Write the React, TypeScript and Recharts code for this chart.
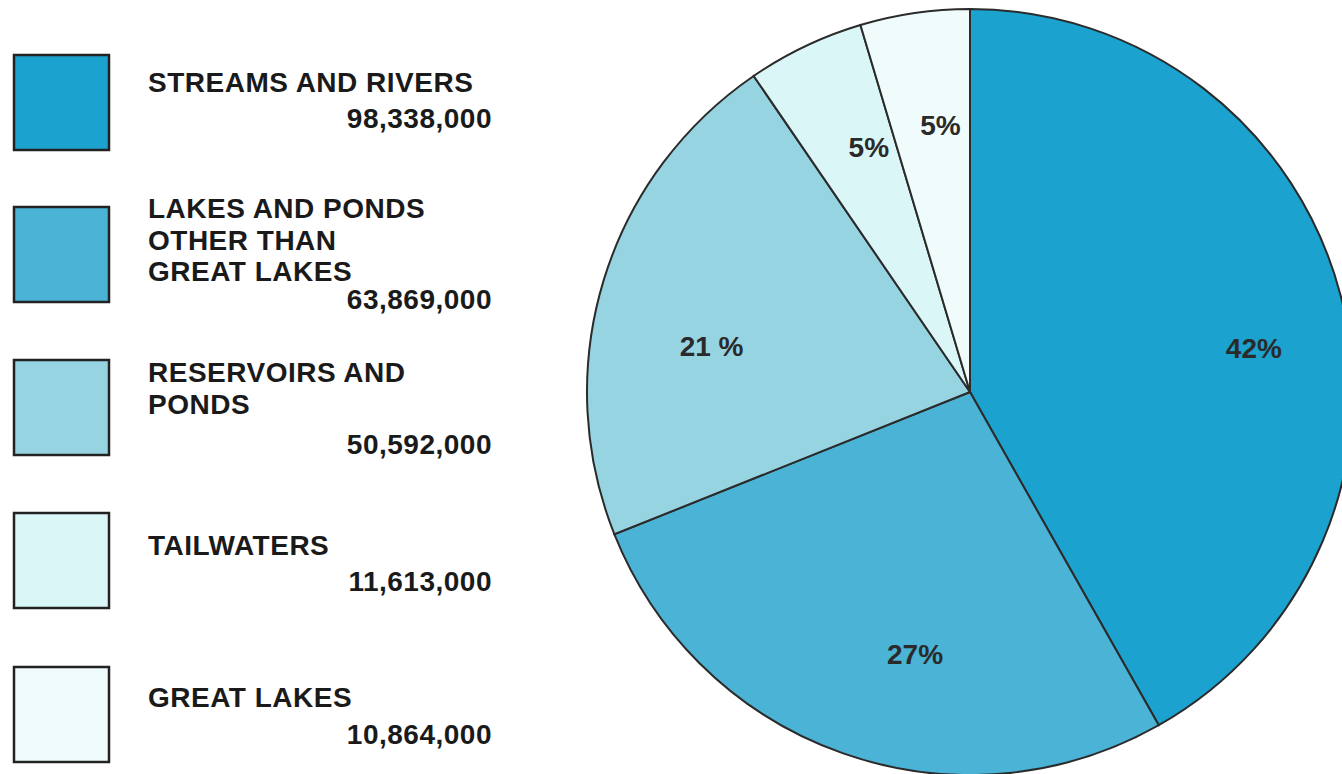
import { PieChart, Pie, Cell } from 'recharts';

const categories = ['STREAMS AND RIVERS', 'LAKES AND PONDS OTHER THAN GREAT LAKES', 'RESERVOIRS AND PONDS', 'TAILWATERS', 'GREAT LAKES'];
const legendLines = [
  ['STREAMS AND RIVERS'],
  ['LAKES AND PONDS', 'OTHER THAN', 'GREAT LAKES'],
  ['RESERVOIRS AND', 'PONDS'],
  ['TAILWATERS'],
  ['GREAT LAKES'],
];
const acres = [98338000, 63869000, 50592000, 11613000, 10864000];
const percentLabels = ['42%', '27%', '21 %', '5%', '5%'];
const colors = ['#1ca2cf', '#4bb3d6', '#97d4e2', '#daf6f6', '#f0fcfc'];

const data = categories.map((name, i) => ({ name, value: acres[i] }));

const FONT = '"Liberation Sans", Arial, Helvetica, sans-serif';
const RAD = Math.PI / 180;

// small nudges so the labels sit where the printed ones do
const labelShift = [-6, 7.5, 7, -3, -2];
const labelRadius = [0.75, 0.7, 0.685, 0.69, 0.7];

const renderLabel = (props: any) => {
  const { cx, cy, midAngle, outerRadius, index } = props;
  const r = outerRadius * labelRadius[index];
  const a = midAngle + labelShift[index];
  const x = cx + r * Math.cos(-a * RAD);
  const y = cy + r * Math.sin(-a * RAD);
  return (
    <text x={x} y={y} fill="#2a2a2a" fontFamily={FONT} fontWeight="bold" fontSize={28}
      textAnchor="middle" dominantBaseline="central">
      {percentLabels[index]}
    </text>
  );
};

// legend rows: box top y, text baselines, number baseline
const rowTops = [55, 207, 360, 513, 667];
const titleBaselines = [[92], [218, 250, 281], [382, 414], [555], [707]];
const numberBaselines = [128, 309, 454, 591, 744];

function LegendBlock() {
  return (
    <svg width={520} height={774} style={{ position: 'absolute', left: 0, top: 0 }}>
      {legendLines.map((lines, i) => (
        <g key={i}>
          <rect x={14} y={rowTops[i]} width={95} height={95} fill={colors[i]} stroke="#222" strokeWidth={2.5} />
          {lines.map((ln, j) => (
            <text key={j} x={148} y={titleBaselines[i][j]} fill="#1a1a1a" fontFamily={FONT}
              fontWeight="bold" fontSize={28} letterSpacing={0.5}>
              {ln}
            </text>
          ))}
          <text x={492} y={numberBaselines[i]} fill="#1a1a1a" fontFamily={FONT} fontWeight="bold"
            fontSize={28} textAnchor="end" letterSpacing={0.5}>
            {acres[i].toLocaleString('en-US')}
          </text>
        </g>
      ))}
    </svg>
  );
}

export default function App() {
  return (
    <div style={{ position: 'absolute', left: 0, top: 0, width: 1342, height: 774, background: '#fff', overflow: 'hidden' }}>
      <PieChart width={1342} height={774} margin={{ top: 0, right: 0, bottom: 0, left: 0 }}>
        <Pie
          data={data}
          dataKey="value"
          nameKey="name"
          cx={970}
          cy={392}
          outerRadius={383}
          startAngle={90}
          endAngle={-270}
          stroke="#2b2b2b"
          strokeWidth={2}
          label={renderLabel}
          labelLine={false}
          isAnimationActive={false}
        >
          {data.map((d, i) => (
            <Cell key={d.name} fill={colors[i]} />
          ))}
        </Pie>
      </PieChart>
      <LegendBlock />
    </div>
  );
}
